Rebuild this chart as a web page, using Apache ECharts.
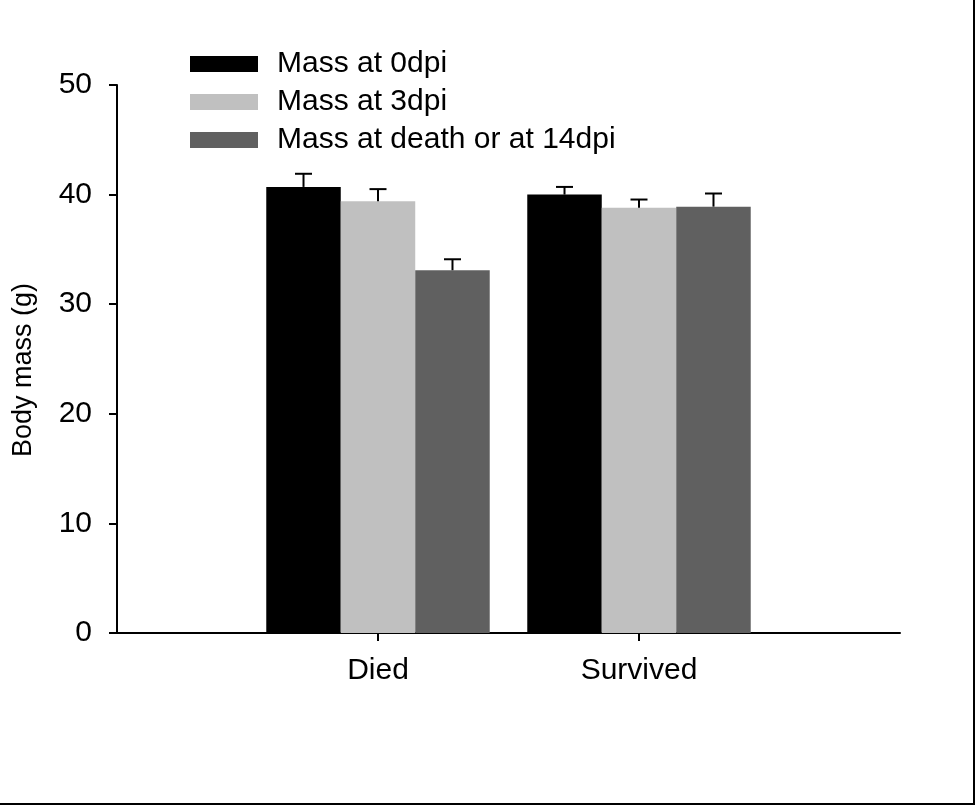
<!DOCTYPE html>
<html>
<head>
<meta charset="utf-8">
<script src="https://cdn.jsdelivr.net/npm/echarts@6/dist/echarts.min.js"></script>
<style>
  body { margin: 0; background: #fff; }
  #wrap { position: relative; width: 975px; height: 805px; }
  #main { width: 975px; height: 805px; }
  #frame {
    position: absolute; left: 0; top: 0; width: 975px; height: 805px;
    box-sizing: border-box; border-right: 2px solid #000; border-bottom: 2px solid #000;
    pointer-events: none;
  }
</style>
</head>
<body>
<div id="wrap">
  <div id="main"></div>
  <div id="frame"></div>
</div>
<script>
// groups on the x axis
const groups = ['Died', 'Survived'];
const seriesNames = ['Mass at 0dpi', 'Mass at 3dpi', 'Mass at death or at 14dpi'];
// means (g)
const mass0 = [40.7, 40.0];
const mass3 = [39.4, 38.8];
const massEnd = [33.1, 38.9];
// upper error (SEM)
const err0 = [1.2, 0.7];
const err3 = [1.1, 0.75];
const errEnd = [1.0, 1.2];
const yTicks = [0, 10, 20, 30, 40, 50];

const colors = ['#000000', '#c0c0c0', '#606060'];
const font = 'Liberation Sans, Arial, sans-serif';
const fs = 30;

// empty slots at both ends so the groups sit at 1/3 and 2/3 of the axis
const categories = [''].concat(groups, ['']);
const pad = arr => ['-'].concat(arr, ['-']);

const means = [mass0, mass3, massEnd];
const errs = [err0, err3, errEnd];
const barFrac = 0.2854; // bar width as part of one category step

const barSeries = means.map((m, i) => ({
  name: seriesNames[i],
  type: 'bar',
  data: pad(m),
  barWidth: (barFrac * 100) + '%',
  barGap: '0%',
  itemStyle: { color: colors[i] },
  z: 2
}));

const errSeries = means.map((m, i) => ({
  type: 'custom',
  name: seriesNames[i] + ' err',
  z: 3,
  silent: true,
  data: m.map((v, k) => [k + 1, v, errs[i][k]]),
  renderItem: (params, api) => {
    const x = api.value(0);
    const v = api.value(1);
    const e = api.value(2);
    const step = api.size([1, 0])[0];
    const dx = (i - 1) * step * barFrac;
    const base = api.coord([x, v]);
    const top = api.coord([x, v + e]);
    const cx = base[0] + dx;
    const cap = 8.5;
    const style = { stroke: '#000', lineWidth: 2 };
    return {
      type: 'group',
      children: [
        { type: 'line', shape: { x1: cx, y1: base[1], x2: cx, y2: top[1] }, style },
        { type: 'line', shape: { x1: cx - cap, y1: top[1], x2: cx + cap, y2: top[1] }, style }
      ]
    };
  }
}));

const chart = echarts.init(document.getElementById('main'));
chart.setOption({
  animation: false,
  textStyle: { fontFamily: font },
  grid: { left: 117, right: 75, top: 85, bottom: 172, containLabel: false },
  legend: {
    data: seriesNames,
    orient: 'vertical',
    left: 190,
    top: 49,
    padding: 0,
    itemWidth: 68,
    itemHeight: 16,
    itemGap: 8,
    icon: 'rect',
    textStyle: { fontSize: fs, color: '#000', fontFamily: font, padding: [0, 0, 0, 14] }
  },
  xAxis: {
    type: 'category',
    data: categories,
    boundaryGap: false,
    axisLine: { lineStyle: { color: '#000', width: 2 } },
    axisTick: {
      length: 8,
      interval: (idx, val) => val !== '',
      lineStyle: { color: '#000', width: 2 }
    },
    axisLabel: { interval: 0, fontSize: fs, color: '#000', margin: 23, fontFamily: font },
    splitLine: { show: false }
  },
  yAxis: {
    type: 'value',
    min: yTicks[0],
    max: yTicks[yTicks.length - 1],
    interval: 10,
    name: 'Body mass (g)',
    nameLocation: 'middle',
    nameGap: 80,
    nameTextStyle: { fontSize: 27, color: '#000', fontFamily: font, padding: [0, 22, 0, 0] },
    axisLine: { show: true, lineStyle: { color: '#000', width: 2 } },
    axisTick: { show: true, length: 8, lineStyle: { color: '#000', width: 2 } },
    axisLabel: { fontSize: fs, color: '#000', margin: 25, fontFamily: font },
    splitLine: { show: false }
  },
  series: barSeries.concat(errSeries)
});
</script>
</body>
</html>
